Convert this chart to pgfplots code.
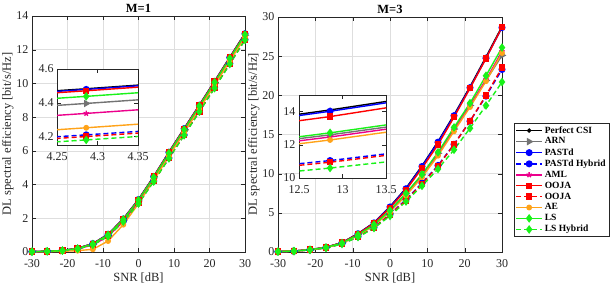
\documentclass[border=0pt]{standalone}
\usepackage{fontspec}
\setmainfont{Liberation Serif}
\usepackage{pgfplots}
\usepackage{pgfplotstable}
\pgfplotsset{compat=1.18}
\definecolor{arngray}{rgb}{0.45,0.45,0.45}
\definecolor{aeorange}{rgb}{1,0.64,0.1}
\definecolor{lsgreen}{rgb}{0.1,0.95,0.1}
\definecolor{axgray}{rgb}{0.15,0.15,0.15}
\definecolor{gridgray}{rgb}{0.87,0.87,0.87}

\pgfplotstableread{
x p arn past pasth aml ooja oojah ae ls lsh
-30 0.02 0.02 0.02 0.02 0.02 0.02 0.02 0.01 0.02 0.02
-25.714 0.04 0.04 0.04 0.04 0.04 0.04 0.04 0.02 0.04 0.04
-21.429 0.09 0.08 0.09 0.08 0.08 0.09 0.08 0.04 0.09 0.08
-17.143 0.22 0.20 0.22 0.19 0.19 0.22 0.19 0.08 0.21 0.18
-12.857 0.50 0.45 0.50 0.43 0.42 0.49 0.43 0.16 0.48 0.42
-8.571 1.05 0.98 1.05 0.95 0.93 1.04 0.95 0.65 1.02 0.93
-4.286 1.97 1.88 1.96 1.82 1.82 1.95 1.82 1.62 1.93 1.80
0 3.12 3.03 3.11 2.90 2.97 3.10 2.89 2.87 3.08 2.87
4.286 4.483 4.396 4.479 4.21 4.337 4.471 4.20 4.252 4.438 4.18
8.571 5.93 5.83 5.92 5.58 5.77 5.91 5.57 5.68 5.87 5.55
12.857 7.33 7.23 7.32 6.95 7.17 7.31 6.94 7.08 7.27 6.92
17.143 8.72 8.62 8.71 8.35 8.57 8.70 8.34 8.48 8.66 8.32
21.429 10.13 10.03 10.12 9.75 9.98 10.11 9.74 9.90 10.07 9.72
25.714 11.55 11.45 11.54 11.18 11.40 11.53 11.17 11.32 11.49 11.15
30 12.97 12.86 12.95 12.60 12.82 12.94 12.60 12.75 12.90 12.58
}\dataA

\pgfplotstableread{
x p arn past pasth aml ooja oojah ae ls lsh
-30 0.05 0.05 0.05 0.05 0.05 0.05 0.05 0.05 0.05 0.05
-25.714 0.12 0.12 0.12 0.11 0.12 0.12 0.11 0.11 0.12 0.11
-21.429 0.30 0.29 0.30 0.27 0.29 0.30 0.27 0.27 0.29 0.26
-17.143 0.60 0.58 0.60 0.53 0.57 0.60 0.53 0.55 0.58 0.52
-12.857 1.20 1.15 1.20 1.05 1.13 1.20 1.05 1.10 1.15 1.02
-8.571 2.35 2.20 2.33 1.95 2.15 2.30 1.95 2.10 2.20 1.90
-4.286 3.75 3.50 3.72 3.15 3.45 3.68 3.12 3.40 3.50 3.05
0 5.80 5.30 5.75 4.80 5.20 5.65 4.75 5.10 5.30 4.60
4.286 8.15 7.45 8.08 6.70 7.35 7.90 6.60 7.20 7.50 6.45
8.571 11.00 9.85 10.92 8.80 9.70 10.70 8.70 9.55 9.90 8.45
12.857 14.10 12.60 14.02 11.05 12.47 13.70 10.95 12.29 12.72 10.60
17.143 17.50 15.70 17.40 13.75 15.60 17.20 13.70 15.40 15.90 13.05
21.429 21.10 18.70 20.98 16.70 18.70 20.90 16.70 18.50 19.00 15.80
25.714 24.90 21.90 24.75 19.90 22.00 24.70 20.00 21.80 22.50 18.70
30 28.80 25.10 28.65 23.30 25.60 28.70 23.55 25.40 26.10 21.70
}\dataB

\pgfplotsset{
  every axis/.append style={
    scale only axis,
    axis line style={axgray},
    tick style={axgray},
    tick align=inside,
    every tick label/.append style={font=\fontsize{12}{14}\selectfont, text=axgray},
    xticklabel style={yshift=-3.5pt},
    /pgf/number format/assume math mode=true,
    label style={font=\fontsize{12.5}{15}\selectfont, text=axgray},
    title style={font=\fontsize{12.5}{15}\selectfont\bfseries},
  },
  mainax/.style={
    xmin=-30, xmax=30,
    xtick={-30,-20,...,30},
    grid=major,
    major grid style={gridgray, line width=0.5pt},
    xlabel={SNR [dB]},
    ylabel={DL spectral efficiency [bit/s/Hz]},
    xlabel style={yshift=1pt},
    ylabel style={yshift=-4pt},
  },
  insetax/.style={
    axis background/.style={fill=white},
    axis line style={axgray, line width=0.6pt},
    xticklabel style={yshift=-1pt},
  },
  sperf/.style={black, line width=1.4pt, mark=*, mark size=1.4pt},
  sarn/.style={arngray, line width=1.4pt, mark=triangle*, mark size=3pt, mark options={rotate=-90}},
  spast/.style={blue, line width=1.4pt, mark=*, mark size=2.8pt},
  spasth/.style={blue, line width=1.4pt, dash pattern=on 5pt off 3pt, mark=*, mark size=2.8pt, mark options={solid}},
  saml/.style={magenta, line width=1.4pt, mark=star, mark size=2.8pt, mark options={line width=1.4pt}},
  sooja/.style={red, line width=1.4pt, mark=square*, mark size=2.5pt},
  soojah/.style={red, line width=1.4pt, dash pattern=on 5pt off 3pt, mark=square*, mark size=2.5pt, mark options={solid}},
  sae/.style={aeorange, line width=1.4pt, mark=*, mark size=2.2pt},
  sls/.style={lsgreen, line width=1.4pt, mark=diamond*, mark size=3.2pt},
  slsh/.style={lsgreen, line width=1.4pt, dash pattern=on 5pt off 3pt, mark=diamond*, mark size=3.2pt, mark options={solid}},
}

\newcommand{\allplots}[1]{%
  \addplot[sperf] table[x=x,y=p] {#1};
  \addplot[sarn] table[x=x,y=arn] {#1};
  \addplot[spast] table[x=x,y=past] {#1};
  \addplot[spasth] table[x=x,y=pasth] {#1};
  \addplot[saml] table[x=x,y=aml] {#1};
  \addplot[sooja] table[x=x,y=ooja] {#1};
  \addplot[soojah] table[x=x,y=oojah] {#1};
  \addplot[sae] table[x=x,y=ae] {#1};
  \addplot[sls] table[x=x,y=ls] {#1};
  \addplot[slsh] table[x=x,y=lsh] {#1};
}

\begin{document}
\begin{tikzpicture}
% left main axis
\begin{axis}[mainax, at={(32pt,35pt)}, anchor=south west, width=213pt, height=236pt,
  ymin=0, ymax=14, ytick={0,2,...,14}, title={M=1}, title style={yshift=-6pt}]
  \allplots{\dataA}
\end{axis}
% left inset
\begin{axis}[insetax, at={(57pt,142pt)}, anchor=south west, width=81pt, height=76pt,
  xmin=4.25, xmax=4.35, ymin=4.15, ymax=4.6,
  restrict x to domain=-1:9,
  xtick={4.25,4.3,4.35}, ytick={4.2,4.4,4.6},
  xticklabels={4.25,4.3,4.35}, yticklabels={4.2,4.4,4.6}]
  \allplots{\dataA}
\end{axis}
% right main axis
\begin{axis}[mainax, at={(278pt,35pt)}, anchor=south west, width=224pt, height=235pt,
  ymin=0, ymax=30, ytick={0,5,...,30}, title={M=3}, title style={yshift=-6pt},
  legend style={at={(1.0536,0.549)}, anchor=north west, draw=axgray, line width=0.5pt,
    font=\fontsize{9.5}{11}\selectfont\bfseries, row sep=-0.9pt, inner sep=1.2pt,
    cells={anchor=west}},
  legend image code/.code={\draw[mark repeat=2, mark phase=2] plot coordinates {(0pt,0pt) (13pt,0pt) (26pt,0pt)};}]
  \allplots{\dataB}
  \legend{Perfect CSI, ARN, PASTd, PASTd Hybrid, AML, OOJA, OOJA, AE, LS, LS Hybrid}
\end{axis}
% right inset
\begin{axis}[insetax, at={(299pt,109pt)}, anchor=south west, width=87pt, height=83pt,
  xmin=12.5, xmax=13.5, ymin=10, ymax=15,
  restrict x to domain=8:18,
  xtick={12.5,13,13.5}, ytick={10,12,14},
  xticklabels={12.5,13,13.5}, yticklabels={10,12,14}]
  \allplots{\dataB}
\end{axis}
\pgfresetboundingbox
\path[use as bounding box] (0,0) rectangle (615pt,287pt);
\end{tikzpicture}
\end{document}
